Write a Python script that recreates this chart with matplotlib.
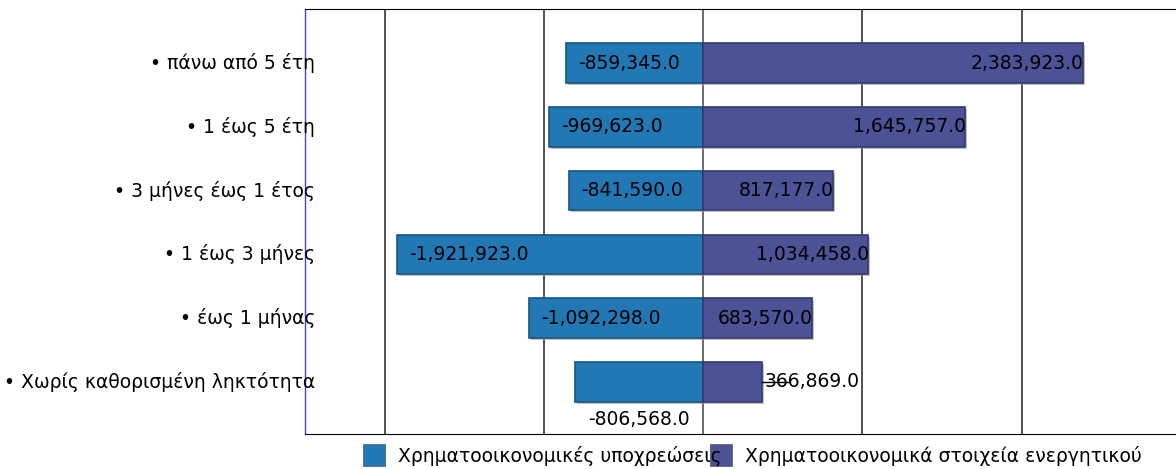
import matplotlib.pyplot as plt
import matplotlib.patheffects as pe
from matplotlib.patches import Rectangle

categories = ["• πάνω από 5 έτη", "• 1 έως 5 έτη", "• 3 μήνες έως 1 έτος",
              "• 1 έως 3 μήνες", "• έως 1 μήνας", "• Χωρίς καθορισμένη ληκτότητα"]
liabilities = [-859345.0, -969623.0, -841590.0, -1921923.0, -1092298.0, -806568.0]
assets = [2383923.0, 1645757.0, 817177.0, 1034458.0, 683570.0, 366869.0]
series_names = ["Χρηματοοικονομικές υποχρεώσεις", "Χρηματοοικονομικά στοιχεία ενεργητικού"]

blue = "#2277b5"
purple = "#4b5295"
fs = 13.5

fig = plt.figure(figsize=(11.76, 4.69), dpi=100)
ax = fig.add_axes([305 / 1176, 35 / 469, 876 / 1176, 425 / 469])

n = len(categories)
ypos = [n - 1 - i for i in range(n)]
shadow = [pe.SimplePatchShadow(offset=(1.5, -1.5), shadow_rgbFace="#999999", alpha=0.6), pe.Normal()]

b1 = ax.barh(ypos, liabilities, height=0.62, color=blue, edgecolor="#17557f", linewidth=1.2, zorder=3)
b2 = ax.barh(ypos, assets, height=0.62, color=purple, edgecolor="#333a6e", linewidth=1.2, zorder=3)
for p in list(b1) + list(b2):
    p.set_path_effects(shadow)

ax.set_xlim(-2500000, 3000000)
ax.set_ylim(-0.82, n - 1 + 0.85)
for x in [-2000000, -1000000, 0, 1000000, 2000000]:
    ax.axvline(x, color="#222222" if x else "#444444", lw=1.1, zorder=1)

pad = 25000
for y, v in zip(ypos, liabilities):
    txt = f"{v:,.1f}"
    if abs(v) < 830000:
        # short bar: value goes underneath
        ax.text(v / 2, y - 0.45, txt, ha="center", va="top", fontsize=fs, zorder=5)
    else:
        ax.text(v + 3 * pad, y, txt, ha="left", va="center", fontsize=fs, zorder=5)
for y, v in zip(ypos, assets):
    txt = f"{v:,.1f}"
    if v < 500000:
        ax.plot([v, v + 170000], [y, y], color="black", lw=1, zorder=4)
        ax.text(v + 20000, y, txt, ha="left", va="center", fontsize=fs, zorder=5)
    else:
        ax.text(v + 5000, y, txt, ha="right", va="center", fontsize=fs, zorder=5)

ax.set_xticks([])
ax.set_yticks([])
for i, c in enumerate(categories):
    ax.text(10 / 876, ypos[i], c, transform=ax.get_yaxis_transform(),
            ha="right", va="center", fontsize=fs, zorder=6)

ax.spines["left"].set_color("#4444cc")
ax.spines["left"].set_linewidth(1)
ax.spines["top"].set_color("black")
ax.spines["bottom"].set_color("black")
ax.spines["right"].set_visible(False)

# legend along the bottom edge
for x0, col, name in [(363, blue, series_names[0]), (710, purple, series_names[1])]:
    fig.patches.append(Rectangle((x0 / 1176, 3 / 469), 22 / 1176, 22 / 469,
                                 transform=fig.transFigure, facecolor=col,
                                 edgecolor="#555555", lw=0.5))
    fig.text((x0 + 35) / 1176, 13 / 469, name, ha="left", va="center", fontsize=fs)

fig.savefig("out.png", dpi=100)
